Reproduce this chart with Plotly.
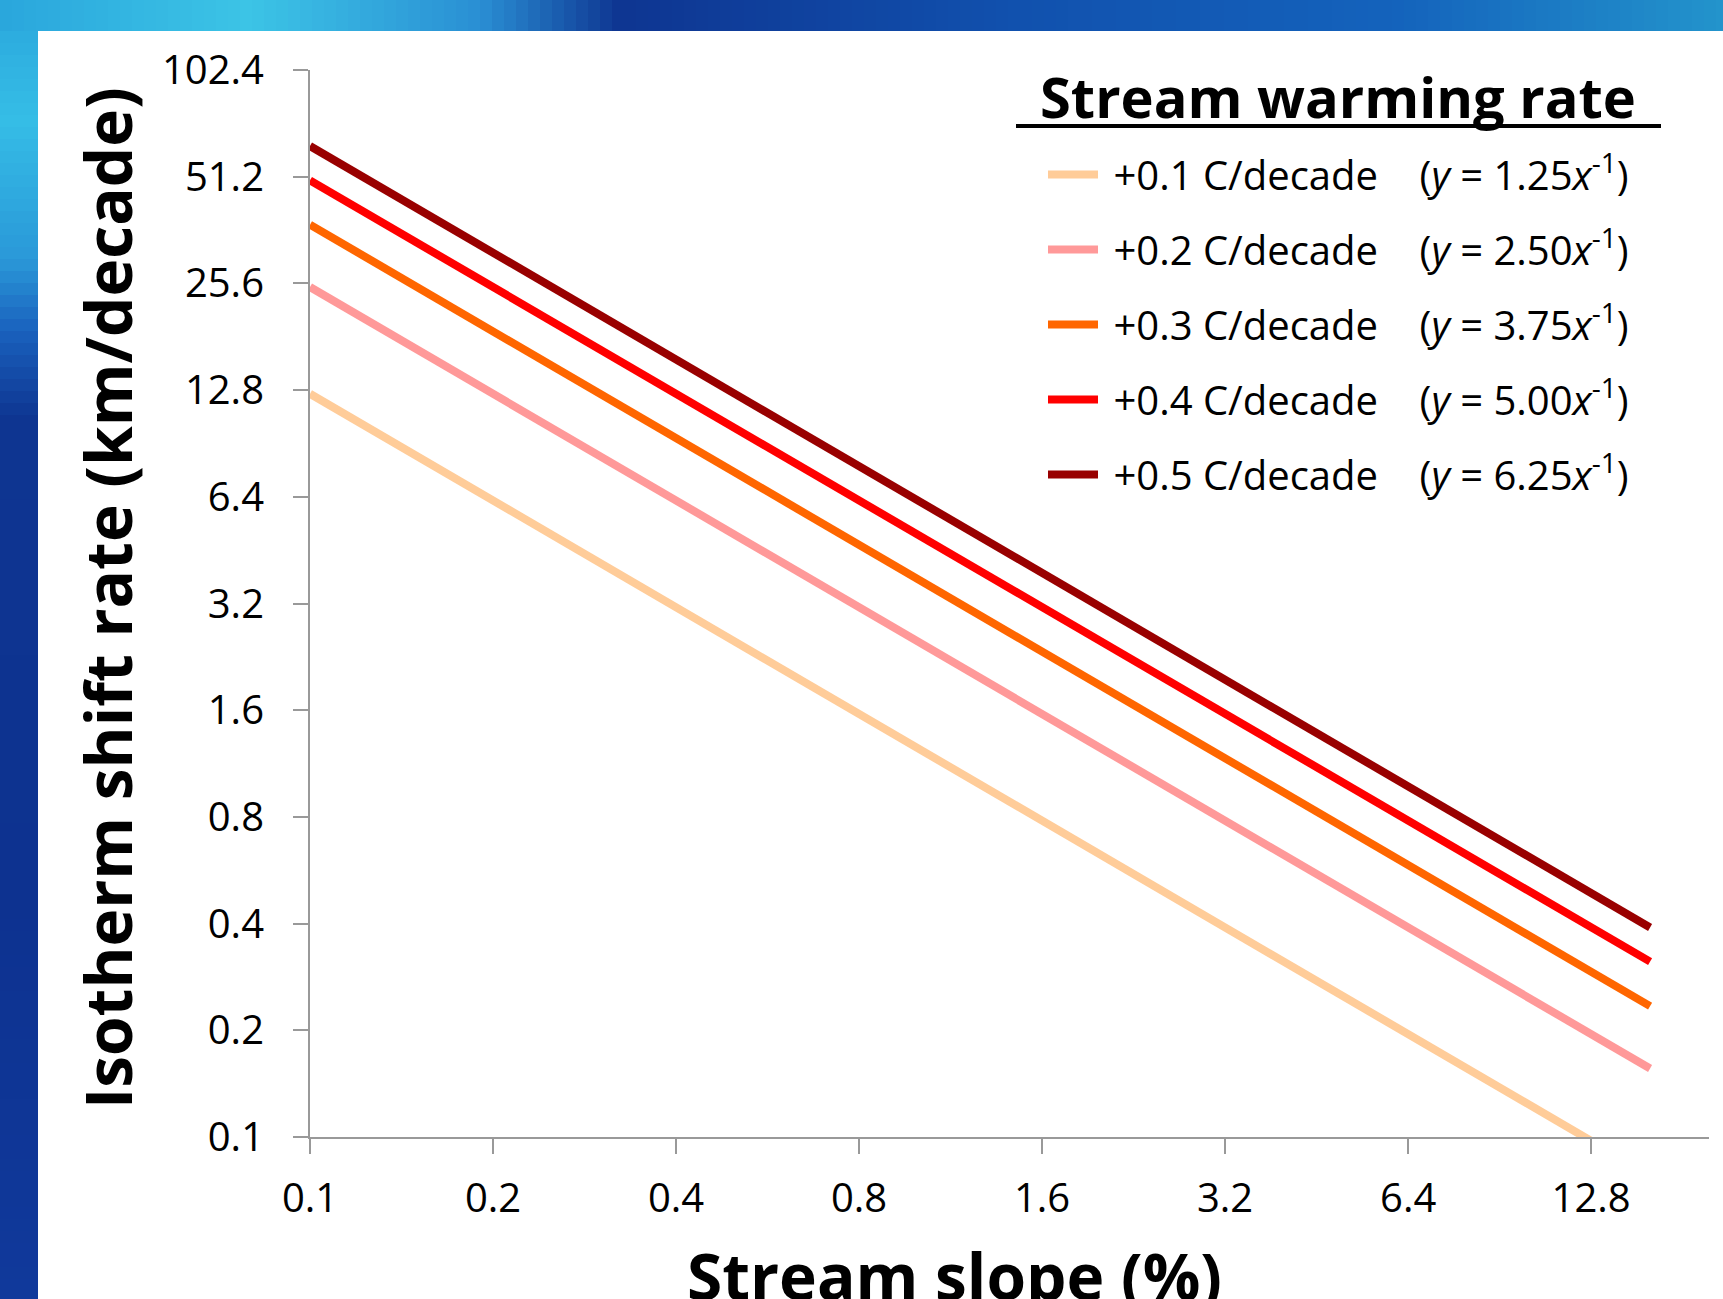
import plotly.graph_objects as go
import math

# ---------------- data ----------------
slope_pct = [0.1, 16.0]
shift_01 = [12.5, 0.078]
shift_02 = [25.0, 0.156]
shift_03 = [37.5, 0.234]
shift_04 = [50.0, 0.3125]
shift_05 = [62.5, 0.39]

series_names = [
    "+0.1 C/decade", "+0.2 C/decade", "+0.3 C/decade",
    "+0.4 C/decade", "+0.5 C/decade",
]
series_coef = ["1.25", "2.50", "3.75", "5.00", "6.25"]
series_values = [shift_01, shift_02, shift_03, shift_04, shift_05]
series_colors = ["#FFCC99", "#FF9999", "#FF6600", "#FF0000", "#990000"]

x_ticks = [0.1, 0.2, 0.4, 0.8, 1.6, 3.2, 6.4, 12.8]
x_ticktext = ["0.1", "0.2", "0.4", "0.8", "1.6", "3.2", "6.4", "12.8"]
y_ticks = [0.1, 0.2, 0.4, 0.8, 1.6, 3.2, 6.4, 12.8, 25.6, 51.2, 102.4]
y_ticktext = ["0.1", "0.2", "0.4", "0.8", "1.6", "3.2", "6.4", "12.8", "25.6", "51.2", "102.4"]

# ---------------- layout geometry ----------------
W, H = 1723, 1299
L, R, T, B = 310, 14, 70, 162
PW, PH = W - L - R, H - T - B


def px(x):
    return (x - L) / PW


def py(y):
    return (H - B - y) / PH


FONT = "Open Sans"

fig = go.Figure()
for name, coef, vals, col in zip(series_names, series_coef, series_values, series_colors):
    label = f"&nbsp;{name}&nbsp;&nbsp;&nbsp;&nbsp;(<i>y</i> = {coef}<i>x</i><sup>-1</sup>)"
    fig.add_trace(go.Scatter(
        x=slope_pct, y=vals, mode="lines", name=label,
        legendgroup=name,
        line=dict(color=col, width=8),
        hoverinfo="skip",
    ))


# background gradient strips
def lerp_color(stops, t):
    for i in range(len(stops) - 1):
        t0, c0 = stops[i]
        t1, c1 = stops[i + 1]
        if t0 <= t <= t1:
            f = (t - t0) / (t1 - t0) if t1 > t0 else 0
            a = [int(c0[k:k + 2], 16) for k in (1, 3, 5)]
            b = [int(c1[k:k + 2], 16) for k in (1, 3, 5)]
            c = [round(a[j] + (b[j] - a[j]) * f) for j in range(3)]
            return "#%02x%02x%02x" % tuple(c)
    return stops[-1][1]


shapes = []
top_stops = [(0, "#2aa6dc"), (250, "#3cc4e6"), (480, "#2a8fd4"), (620, "#0e3591"),
             (1000, "#1150ad"), (1400, "#1463bc"), (1723, "#2394cc")]
step = 12
for x0 in range(0, W, step):
    shapes.append(dict(type="rect", xref="paper", yref="paper", layer="below",
                       x0=px(x0), x1=px(min(x0 + step + 1, W)), y0=py(31), y1=py(0),
                       fillcolor=lerp_color(top_stops, x0 + step / 2), line=dict(width=0)))
left_stops = [(0, "#2aa6dc"), (120, "#35bde6"), (260, "#2a98d8"), (330, "#1a62be"),
              (420, "#0e3591"), (900, "#0d3290"), (1299, "#10399b")]
for y0 in range(31, H, step):
    shapes.append(dict(type="rect", xref="paper", yref="paper", layer="below",
                       x0=px(0), x1=px(38), y0=py(min(y0 + step + 1, H)), y1=py(y0),
                       fillcolor=lerp_color(left_stops, y0 + step / 2), line=dict(width=0)))
# legend title underline
shapes.append(dict(type="line", xref="paper", yref="paper",
                   x0=px(1016), x1=px(1661), y0=py(126), y1=py(126),
                   line=dict(color="black", width=4)))

annotations = [
    dict(text="<b>Stream warming rate</b>", xref="paper", yref="paper",
         x=px(1338), y=py(96), xanchor="center", yanchor="middle", showarrow=False,
         font=dict(family=FONT, size=56, color="black")),
    dict(text="<b>Isotherm shift rate (km/decade)</b>", xref="paper", yref="paper",
         x=px(107), y=py(598), xanchor="center", yanchor="middle", showarrow=False,
         textangle=-90, font=dict(family=FONT, size=64, color="black")),
    dict(text="<b>Stream slope (%)</b>", xref="paper", yref="paper",
         x=px(954), y=py(1275), xanchor="center", yanchor="middle", showarrow=False,
         font=dict(family=FONT, size=64, color="black")),
]

axis_common = dict(
    showgrid=False, zeroline=False, showline=True, linecolor="#999999", linewidth=2,
    ticks="outside", ticklen=15, tickcolor="#999999", tickwidth=2,
    tickfont=dict(family=FONT, size=40, color="black"),
)

fig.update_layout(
    width=W, height=H,
    margin=dict(l=L, r=R, t=T, b=B, pad=0),
    paper_bgcolor="white", plot_bgcolor="white",
    font=dict(family=FONT, color="black"),
    xaxis=dict(type="log", range=[-1, math.log10(20.0)], tickvals=x_ticks,
               ticktext=x_ticktext, ticklabelstandoff=10, **axis_common),
    yaxis=dict(type="log", range=[-1, math.log10(102.4)], tickvals=y_ticks,
               ticktext=y_ticktext, ticklabelstandoff=21, **axis_common),
    legend=dict(x=px(1043), y=py(142), xanchor="left", yanchor="top",
                bgcolor="rgba(0,0,0,0)", borderwidth=0,
                font=dict(family=FONT, size=40, color="black"),
                tracegroupgap=20, traceorder="grouped", itemwidth=50),
    showlegend=True,
    shapes=shapes,
    annotations=annotations,
)

fig.write_html("out.html", config={"displayModeBar": False},
               post_script="document.body.style.margin='0';")
